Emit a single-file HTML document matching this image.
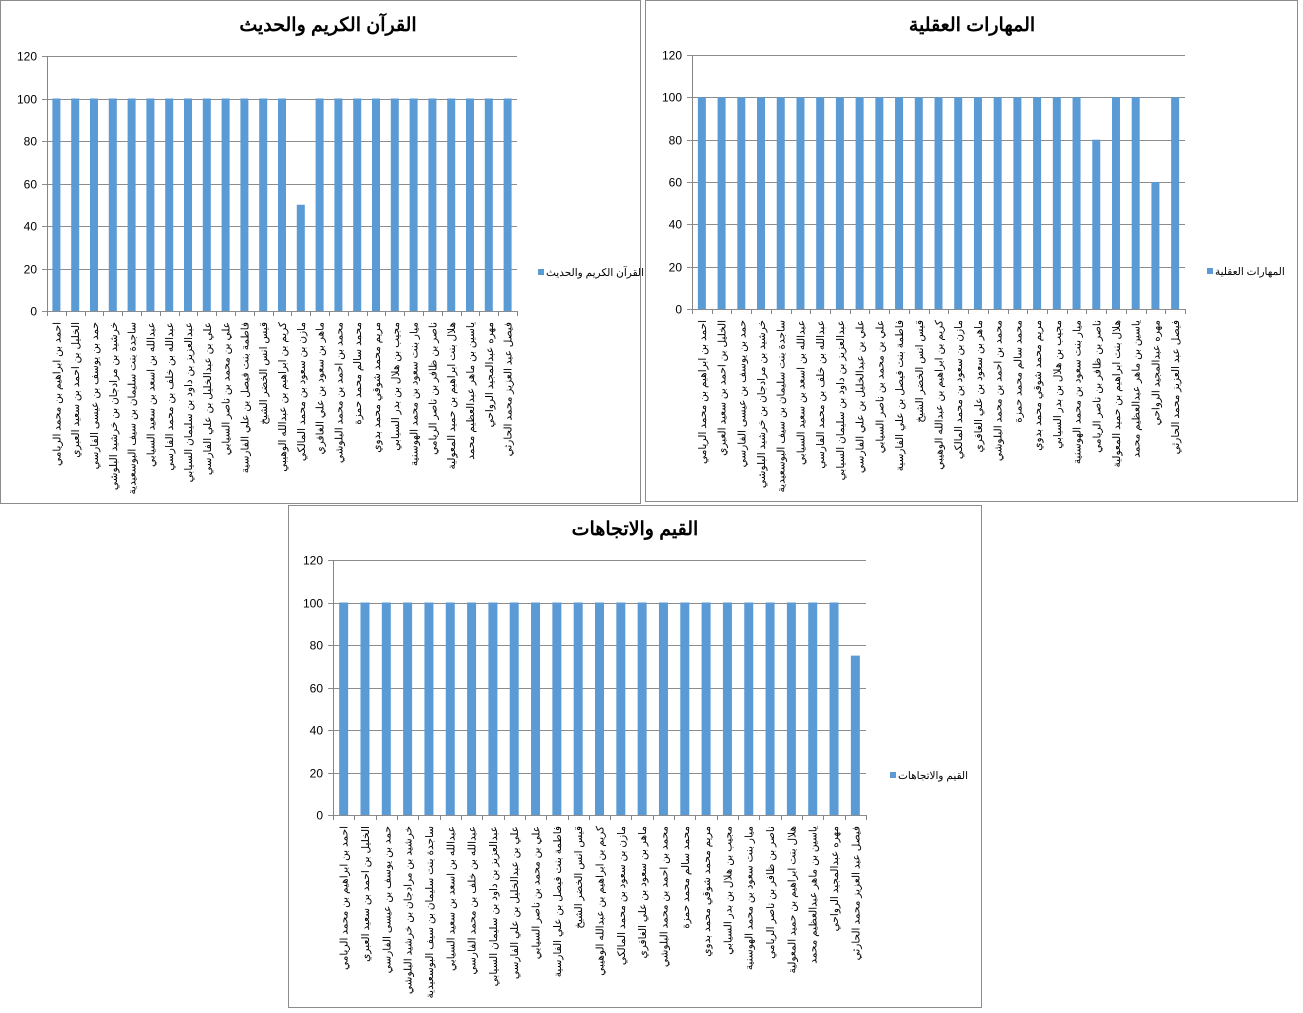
<!DOCTYPE html>
<html><head><meta charset="utf-8">
<style>
body{margin:0;background:#fff;width:1303px;height:1013px;overflow:hidden;font-family:"Liberation Sans","Noto Sans CJK SC",sans-serif;}
svg{position:absolute;left:0;top:0;}
</style></head>
<body>
<svg id="svg" width="1303" height="1013"></svg>
<script>
const categories = ["احمد بن ابراهيم بن محمد الريامي","الخليل بن احمد بن سعيد العبري","حمد بن يوسف بن عيسى الفارسي","خرشيد بن مرادجان بن خرشيد البلوشي","ساجدة بنت سليمان بن سيف البوسعيدية","عبدالله بن اسعد بن سعيد السيابي","عبدالله بن خلف بن محمد الفارسي","عبدالعزيز بن داود بن سليمان السيابي","علي بن عبدالخليل بن علي الفارسي","علي بن محمد بن ناصر السيابي","فاطمة بنت فيصل بن علي الفارسية","قيس انس الخضر الشيخ","كريم بن ابراهيم بن عبدالله الوهيبي","مازن بن سعود بن محمد المالكي","ماهر بن سعود بن علي الغافري","محمد بن احمد بن محمد البلوشي","محمد سالم محمد حمزة","مريم محمد شوقي محمد بدوي","مجيب بن هلال بن بدر السيابي","ميار بنت سعود بن محمد الهوسنية","ناصر بن ظافر بن ناصر الريامي","هلال بنت ابراهيم بن حميد المعولية","ياسين بن ماهر عبدالعظيم محمد","مهره عبدالمجيد الرواحي","فيصل عبد العزيز محمد الحارثي"];
const quranValues = [100,100,100,100,100,100,100,100,100,100,100,100,100,50,100,100,100,100,100,100,100,100,100,100,100];
const skillsValues = [100,100,100,100,100,100,100,100,100,100,100,100,100,100,100,100,100,100,100,100,80,100,100,60,100];
const valuesValues = [100,100,100,100,100,100,100,100,100,100,100,100,100,100,100,100,100,100,100,100,100,100,100,100,75];
const yTicks = [0,20,40,60,80,100,120];

const NS="http://www.w3.org/2000/svg";
const svg=document.getElementById('svg');
function mk(tag,attrs,parent){const e=document.createElementNS(NS,tag);for(const k in attrs)e.setAttribute(k,attrs[k]);(parent||svg).appendChild(e);return e;}

function chart(cfg){
  const g=mk('g',{});
  
  
  const box=mk('rect',{x:cfg.bx+0.5,y:cfg.by+0.5,width:cfg.bw,height:cfg.bh,fill:'#fff',stroke:'#8c8c8c'},g);
  
  
  const t=mk('text',{x:cfg.tx,y:cfg.ty,'text-anchor':'middle','font-size':'19','font-weight':'bold',fill:'#000'},g);
  t.textContent=cfg.title;
  
  
  const y=v=>cfg.y0-(v/120)*(cfg.y0-cfg.y120);
  const n=categories.length, step=(cfg.x1-cfg.x0)/n;
  const x=i=>cfg.x0+step*(i+0.5);
  yTicks.forEach(v=>{
    const yy=Math.round(y(v))+0.5;
    const l=mk('line',{x1:cfg.x0-5,x2:cfg.x1,y1:yy,y2:yy,stroke:'#8c8c8c','stroke-width':1},g);
    
    
    const tl=mk('text',{x:cfg.x0-10,y:yy+4,'text-anchor':'end','font-size':'12',fill:'#000'},g);
    tl.textContent=v;
    
    
  });
  const ax=mk('line',{x1:cfg.x0+0.5,x2:cfg.x0+0.5,y1:y(120),y2:y(0),stroke:'#868686'},g);
  
  
  for(let i=0;i<=n;i++){
    const xx=Math.round(cfg.x0+step*i)+0.5;
    const tk=mk('line',{x1:xx,x2:xx,y1:y(0),y2:y(0)+5,stroke:'#868686'},g);
    
    
  }
  cfg.values.forEach((v,i)=>{
    const b=mk('rect',{x:x(i)-cfg.barW/2,y:y(v),width:cfg.barW,height:y(0)-y(v),fill:'#5b9bd5'},g);
    
    
    const lx=x(i)+4, ly=y(0)+11;
    const lb=mk('text',{x:lx,y:ly,transform:`rotate(-90 ${lx} ${ly})`,'text-anchor':'end','font-size':'10.5',fill:'#000'},g);
    lb.textContent=categories[i];
    
    
  });
  const ls=mk('rect',{x:cfg.lx,y:cfg.ly-7,width:6,height:6,fill:'#5b9bd5'},g);
  
  
  const lt=mk('text',{x:cfg.lx+8,y:cfg.ly,'font-size':'10.5',fill:'#000'},g);
  lt.textContent=cfg.title;
  
  
}
chart({name:'quran-chart',title:'القرآن الكريم والحديث',values:quranValues,bx:0,by:0,bw:640,bh:503,tx:328,ty:31,x0:47,x1:517,y0:311,y120:56,barW:8,lx:538,ly:276});
chart({name:'skills-chart',title:'المهارات العقلية',values:skillsValues,bx:645,by:0,bw:652,bh:501,tx:972,ty:31,x0:692,x1:1185,y0:309,y120:55,barW:8,lx:1207,ly:275});
chart({name:'values-chart',title:'القيم والاتجاهات',values:valuesValues,bx:288,by:505,bw:693,bh:502,tx:635,ty:535,x0:333,x1:866,y0:815,y120:560,barW:9,lx:890,ly:779});
</script>
</body></html>
